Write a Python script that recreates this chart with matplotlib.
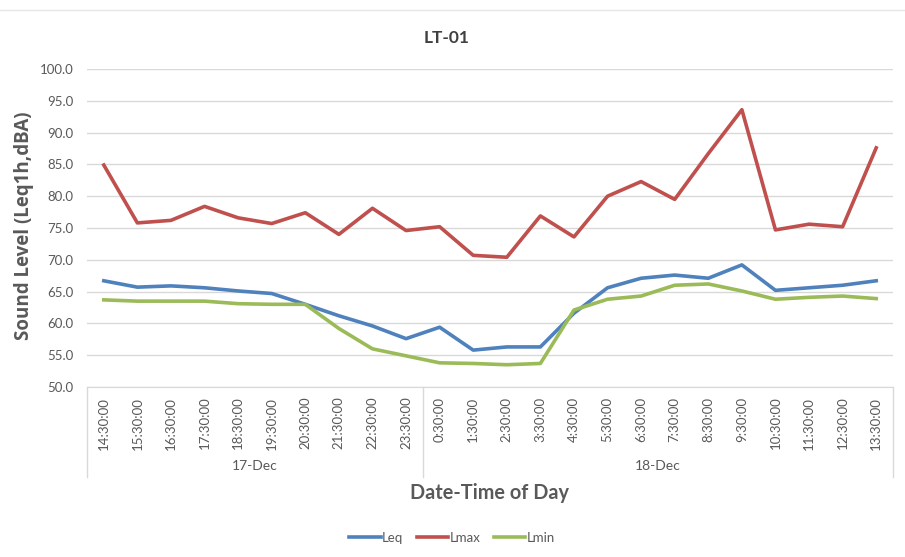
import matplotlib
matplotlib.use("Agg")
import matplotlib.pyplot as plt
from matplotlib.lines import Line2D
import matplotlib.transforms as mtransforms

times = ["14:30:00", "15:30:00", "16:30:00", "17:30:00", "18:30:00", "19:30:00",
         "20:30:00", "21:30:00", "22:30:00", "23:30:00", "0:30:00", "1:30:00",
         "2:30:00", "3:30:00", "4:30:00", "5:30:00", "6:30:00", "7:30:00",
         "8:30:00", "9:30:00", "10:30:00", "11:30:00", "12:30:00", "13:30:00"]
days = ["17-Dec", "18-Dec"]
day_counts = [10, 14]

leq = [66.7, 65.7, 65.9, 65.6, 65.1, 64.7, 63.0, 61.2, 59.6, 57.6, 59.4, 55.8,
       56.3, 56.3, 61.6, 65.6, 67.1, 67.6, 67.1, 69.2, 65.2, 65.6, 66.0, 66.7]
lmax = [84.9, 75.8, 76.2, 78.4, 76.6, 75.7, 77.4, 74.0, 78.1, 74.6, 75.2, 70.7,
        70.4, 76.9, 73.6, 80.0, 82.3, 79.5, 86.7, 93.6, 74.7, 75.6, 75.2, 87.6]
lmin = [63.7, 63.5, 63.5, 63.5, 63.1, 63.0, 63.0, 59.2, 56.0, 54.9, 53.8, 53.7,
        53.5, 53.7, 62.1, 63.8, 64.3, 66.0, 66.2, 65.1, 63.8, 64.1, 64.3, 63.9]

series = [("Leq", leq, "#4F81BD"), ("Lmax", lmax, "#C0504D"), ("Lmin", lmin, "#9BBB59")]

W, H = 905, 557
fig = plt.figure(figsize=(W / 100, H / 100), dpi=100)
left, right, top, bottom = 87, 893, 69, 387
ax = fig.add_axes([left / W, 1 - bottom / H, (right - left) / W, (bottom - top) / H])

x = list(range(len(times)))
for name, vals, col in series:
    ax.plot(x, vals, color=col, lw=2.6, label=name, solid_joinstyle="round")

ax.set_xlim(-0.5, len(times) - 0.5)
ax.set_ylim(50, 100)
ax.set_yticks([50 + 5 * i for i in range(11)])
ax.set_yticklabels([f"{50 + 5 * i:.1f}" for i in range(11)])
ax.set_xticks(x)
ax.set_xticklabels(times, rotation=90, va="top", ha="center")
ax.grid(axis="y", color="#D9D9D9", lw=1)
ax.set_axisbelow(True)
for s in ["top", "right", "left"]:
    ax.spines[s].set_visible(False)
ax.spines["bottom"].set_color("#D9D9D9")
ax.tick_params(axis="both", length=0, labelcolor="#595959", labelsize=9.5)
ax.tick_params(axis="x", pad=7)
ax.tick_params(axis="y", pad=10)
for lab in ax.get_xticklabels() + ax.get_yticklabels():
    lab.set_fontfamily("Lato")

# multi-level category axis
trans = mtransforms.blended_transform_factory(ax.transData, ax.transAxes)
sep_bottom = -90 / (bottom - top)
bounds = [-0.5]
for c in day_counts:
    bounds.append(bounds[-1] + c)
for b in bounds:
    ax.plot([b, b], [0, sep_bottom], transform=trans, color="#D9D9D9", lw=1, clip_on=False)
for i, d in enumerate(days):
    cx = (bounds[i] + bounds[i + 1]) / 2
    ax.text(cx, -79 / (bottom - top), d, transform=trans, ha="center", va="center",
            fontsize=10, color="#595959", fontfamily="Lato")

fig.text(447 / W, 1 - 38 / H, "LT-01", ha="center", va="center", fontsize=12.5,
         fontweight="bold", color="#404040", fontfamily="Lato")
fig.text(490 / W, 1 - 493 / H, "Date-Time of Day", ha="center", va="center", fontsize=14.3,
         fontweight="bold", color="#595959", fontfamily="Lato")
fig.text(24 / W, 1 - 226 / H, "Sound Level (Leq1h,dBA)", ha="center", va="center",
         rotation=90, fontsize=13.5, fontweight="bold", color="#595959", fontfamily="Open Sans")

fig.add_artist(Line2D([0, 1], [1 - 10 / H, 1 - 10 / H], transform=fig.transFigure,
                      color="#E6E6E6", lw=1))

handles = [Line2D([], [], color=c, lw=2.6) for _, _, c in series]
leg = fig.legend(handles, [n for n, _, _ in series], loc="center", bbox_to_anchor=(452 / W, 1 - 538 / H),
                 ncol=3, frameon=False, handlelength=2.4, handletextpad=0.1, columnspacing=1.0,
                 prop={"family": "Lato", "size": 9.5})
for t in leg.get_texts():
    t.set_color("#595959")

fig.savefig("out.png", dpi=100)
